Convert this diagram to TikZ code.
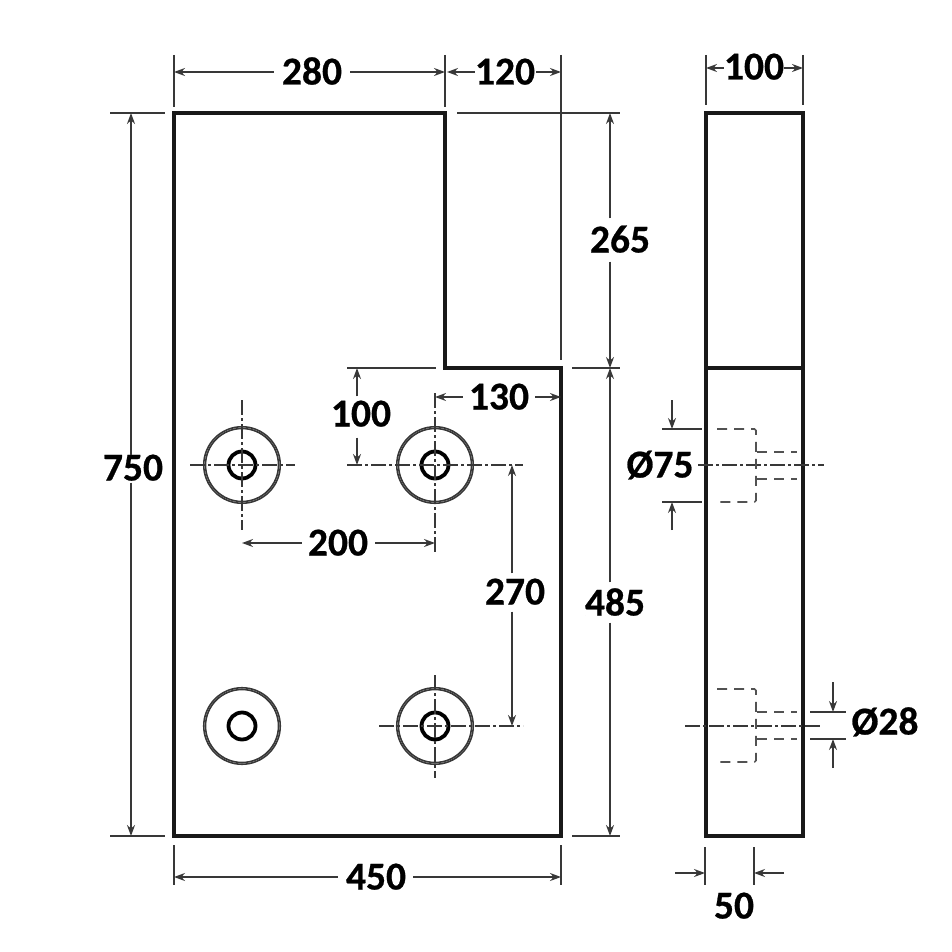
\documentclass[tikz,border=0pt]{standalone}
\usepackage{fontspec}
\setmainfont{Carlito}[BoldFeatures={FakeBold=0.6}]
\usetikzlibrary{arrows.meta}
\definecolor{thinc}{gray}{0.22}
\definecolor{hidc}{gray}{0.32}
\tikzset{
  outline/.style={line width=4pt,draw=black!90,line join=miter},
  extline/.style={line width=1.5pt,draw=thinc},
  dimline/.style={line width=1.5pt,draw=thinc,-{Stealth[length=11pt,width=8pt]}},
  dimtext/.style={font=\bfseries\fontsize{39.5}{39.5}\selectfont,text=black,inner sep=0pt,text height=25pt,text depth=0pt,anchor=center},
  centerl/.style={line width=1.6pt,draw=thinc,dash pattern=on 15pt off 3pt on 3pt off 3pt},
  hiddenl/.style={line width=1.6pt,draw=hidc,dash pattern=on 10pt off 7pt,rounded corners=1.5pt},
  ringout/.style={circle,draw=thinc,line width=1.6pt,minimum size=#1,inner sep=0pt},
  ringin/.style={circle,draw=black,line width=3.8pt,minimum size=27pt,inner sep=0pt}
}
\begin{document}
\begin{tikzpicture}[x=1pt,y=-1pt]
\useasboundingbox (0,0) rectangle (952,952);
% outlines
\coordinate (tl) at (174,113); \coordinate (n1) at (445,113); \coordinate (n2) at (445,368);
\coordinate (n3) at (561,368); \coordinate (br) at (561,836); \coordinate (bl) at (174,836);
\draw[outline] (tl) -- (n1) -- (n2) -- (n3) -- (br) -- (bl) -- cycle;
\coordinate (s1) at (706,113); \coordinate (s2) at (803,113); \coordinate (s3) at (803,836); \coordinate (s4) at (706,836);
\coordinate (s5) at (706,368); \coordinate (s6) at (803,368);
\draw[outline] (s1) -- (s2) -- (s3) -- (s4) -- cycle;
\draw[outline] (s5) -- (s6);
% holes
\foreach \n/\x/\y in {a/242/465,b/435/465,c/242/726,d/435/726}{
  \coordinate (h\n) at (\x,\y);
  \node[ringout=76.5pt] (ho\n) at (h\n) {};
  \node[ringout=73pt] (hm\n) at (h\n) {};
  \node[ringin] (hi\n) at (h\n) {};
}
% centre lines
\draw[centerl] (242,400) -- (242,530);
\draw[centerl] (190,465) -- (295,465);
\draw[centerl] (435,393) -- (435,553);
\draw[centerl] (347,465) -- (523,465);
\draw[centerl] (435,675) -- (435,778);
\draw[centerl] (379,726) -- (523,726);
\draw[centerl] (698,465) -- (824,465);
\draw[centerl] (685,726) -- (820,726);
% hidden lines side view
\draw[hiddenl] (717,429) -- (756,429) -- (756,502) -- (717,502);
\draw[hiddenl] (757,452) -- (797,452);
\draw[hiddenl] (757,479) -- (797,479);
\draw[hiddenl] (717,689) -- (756,689) -- (756,762) -- (717,762);
\draw[hiddenl] (757,712) -- (797,712);
\draw[hiddenl] (757,739) -- (797,739);
% extension lines
\draw[extline] (174,55) -- (174,107);
\draw[extline] (445,55) -- (445,107);
\draw[extline] (561,55) -- (561,360);
\draw[extline] (706,55) -- (706,105);
\draw[extline] (803,55) -- (803,105);
\draw[extline] (110,113) -- (165,113);
\draw[extline] (110,836) -- (165,836);
\draw[extline] (457,113) -- (620,113);
\draw[extline] (572,368) -- (620,368);
\draw[extline] (572,836) -- (620,836);
\draw[extline] (174,845) -- (174,885);
\draw[extline] (561,845) -- (561,885);
\draw[extline] (347,368) -- (436,368);
\draw[extline] (662,429) -- (702,429);
\draw[extline] (662,502) -- (702,502);
\draw[extline] (810,712) -- (846,712);
\draw[extline] (810,739) -- (846,739);
\draw[extline] (705,847) -- (705,885);
\draw[extline] (754,847) -- (754,885);
% labels
\node[dimtext] (t280) at (312,72) {280};
\node[dimtext] (t120) at (505,72) {120};
\node[dimtext] (t100a) at (754,67) {100};
\node[dimtext] (t750) at (133,468) {750};
\node[dimtext] (t265) at (620,240) {265};
\node[dimtext] (t485) at (615,603) {485};
\node[dimtext] (t450) at (376,877) {450};
\node[dimtext] (t100b) at (361,414) {100};
\node[dimtext] (t130) at (499,397) {130};
\node[dimtext] (t200) at (338,543) {200};
\node[dimtext] (t270) at (515,592) {270};
\node[dimtext] (t75) at (660,465) {Ø75};
\node[dimtext] (t28) at (885,722) {Ø28};
\node[dimtext] (t50) at (734,906) {50};
% arrow targets
\coordinate (a280l) at (174,72); \coordinate (a280r) at (445,72);
\coordinate (a120l) at (447,72); \coordinate (a120r) at (561,72);
\coordinate (a100l) at (706,68); \coordinate (a100r) at (803,68);
\coordinate (a750t) at (131,113); \coordinate (a750b) at (131,836);
\coordinate (a265t) at (610,113); \coordinate (a265b) at (610,368);
\coordinate (a485t) at (610,368); \coordinate (a485b) at (610,836);
\coordinate (a450l) at (174,877); \coordinate (a450r) at (561,877);
\coordinate (a1bt) at (357,368); \coordinate (a1bb) at (357,465);
\coordinate (a130l) at (435,397); \coordinate (a130r) at (561,397);
\coordinate (a200l) at (242,543); \coordinate (a200r) at (435,543);
\coordinate (a270t) at (512,465); \coordinate (a270b) at (512,726);
% dimension arrows from their labels
\draw[dimline,shorten <=8pt] (t280.west |- a280l) -- (a280l);
\draw[dimline,shorten <=8pt] (t280.east |- a280r) -- (a280r);
\draw[dimline,shorten <=0pt] (t120.west |- a120l) -- (a120l);
\draw[dimline,shorten <=1pt] (t120.east |- a120r) -- (a120r);
\draw[dimline] (t100a.west |- a100l) -- (a100l);
\draw[dimline] (t100a.east |- a100r) -- (a100r);
\draw[dimline] (t750.north -| a750t) -- (a750t);
\draw[dimline,shorten <=2pt] (t750.south -| a750b) -- (a750b);
\draw[dimline,shorten <=9pt] (t265.north -| a265t) -- (a265t);
\draw[dimline,shorten <=9pt] (t265.south -| a265b) -- (a265b);
\draw[dimline,shorten <=8pt] (t485.north -| a485t) -- (a485t);
\draw[dimline,shorten <=7pt] (t485.south -| a485b) -- (a485b);
\draw[dimline,shorten <=8pt] (t450.west |- a450l) -- (a450l);
\draw[dimline,shorten <=7pt] (t450.east |- a450r) -- (a450r);
\draw[dimline,shorten <=5pt] (t100b.north -| a1bt) -- (a1bt);
\draw[dimline,shorten <=11pt] (t100b.south -| a1bb) -- (a1bb);
\draw[dimline,shorten <=6pt] (t130.west |- a130l) -- (a130l);
\draw[dimline,shorten <=6pt] (t130.east |- a130r) -- (a130r);
\draw[dimline,shorten <=6pt] (t200.west |- a200l) -- (a200l);
\draw[dimline,shorten <=7pt] (t200.east |- a200r) -- (a200r);
\draw[dimline,shorten <=6pt] (t270.north -| a270t) -- (a270t);
\draw[dimline,shorten <=7pt] (t270.south -| a270b) -- (a270b);
% free-ended arrows
\coordinate (p75a) at (672,400); \coordinate (p75b) at (672,429);
\coordinate (p75c) at (672,530); \coordinate (p75d) at (672,502);
\coordinate (p28a) at (833,682); \coordinate (p28b) at (833,712);
\coordinate (p28c) at (833,768); \coordinate (p28d) at (833,739);
\coordinate (p50a) at (675,873); \coordinate (p50b) at (705,873);
\coordinate (p50c) at (784,873); \coordinate (p50d) at (754,873);
\draw[dimline] (p75a) -- (p75b);
\draw[dimline] (p75c) -- (p75d);
\draw[dimline] (p28a) -- (p28b);
\draw[dimline] (p28c) -- (p28d);
\draw[dimline] (p50a) -- (p50b);
\draw[dimline] (p50c) -- (p50d);
\end{tikzpicture}
\end{document}
